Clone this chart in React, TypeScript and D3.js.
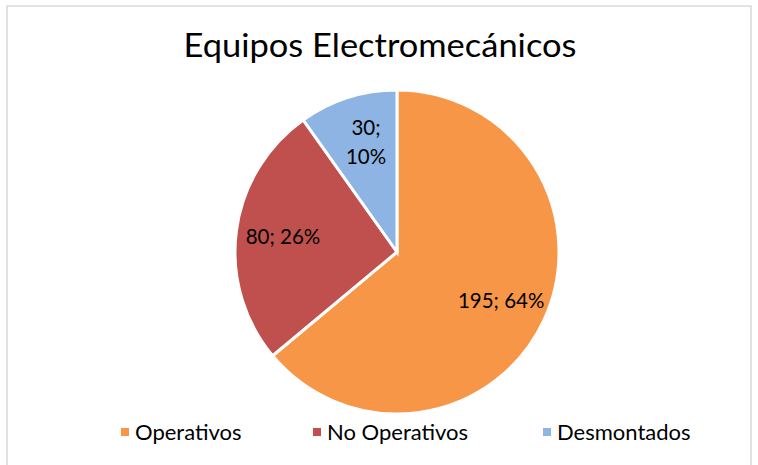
import React from 'react';
import * as d3 from 'd3';

const categories = ['Operativos', 'No Operativos', 'Desmontados'];
const values = [195, 80, 30];
const colors = ['#F79646', '#C0504D', '#8DB4E2'];
const title = 'Equipos Electromecánicos';

const width = 758;
const height = 465;
const cx = 397;
const cy = 252;
const radius = 162;
const font = 'Lato, "Open Sans", sans-serif';

export default function App() {
  const total = d3.sum(values);
  const data = categories.map((name, i) => ({ name, value: values[i], color: colors[i] }));

  const pie = d3.pie<any>().sort(null).value(d => d.value);
  const arcs = pie(data);
  const arcGen = d3.arc<any>().innerRadius(0).outerRadius(radius);
  const labelArc = d3.arc<any>().innerRadius(radius * 0.71).outerRadius(radius * 0.71);

  // legend layout
  const legendX = [121, 313, 543];

  return (
    <div style={{ position: 'absolute', left: 0, top: 0 }}>
      <svg width={width} height={height} style={{ display: 'block', background: '#fff' }}>
        <rect x={7} y={6} width={744} height={470} fill="#fff" stroke="#D9D9D9" strokeWidth={1.5} />
        <text x={380} y={57} textAnchor="middle" fontFamily={font} fontSize={33}
          textLength={393} lengthAdjust="spacingAndGlyphs" fill="#000">{title}</text>
        <g transform={`translate(${cx},${cy})`}>
          {arcs.map(a => (
            <path key={a.data.name} d={arcGen(a) as string} fill={a.data.color}
              stroke="#fff" strokeWidth={3} strokeLinejoin="miter" />
          ))}
          {arcs.map(a => {
            const [x, y] = labelArc.centroid(a);
            const pct = Math.round((a.data.value / total) * 100) + '%';
            const small = a.endAngle - a.startAngle < 0.8;
            return small ? (
              <text key={a.data.name} x={x + 4} y={y} textAnchor="middle" fontFamily={font} fontSize={20.5} fill="#000">
                <tspan x={x + 4} dy={-7}>{a.data.value};</tspan>
                <tspan x={x + 4} dy={29}>{pct}</tspan>
              </text>
            ) : (
              <text key={a.data.name} x={x} y={y + 7} textAnchor="middle" fontFamily={font} fontSize={20.5} fill="#000">
                {`${a.data.value}; ${pct}`}
              </text>
            );
          })}
        </g>
        {data.map((d, i) => (
          <g key={d.name} transform={`translate(${legendX[i]},0)`}>
            <rect x={0} y={428} width={8} height={8} fill={d.color} />
            <text x={14} y={440} fontFamily={font} fontSize={22} fill="#000">{d.name}</text>
          </g>
        ))}
      </svg>
    </div>
  );
}
